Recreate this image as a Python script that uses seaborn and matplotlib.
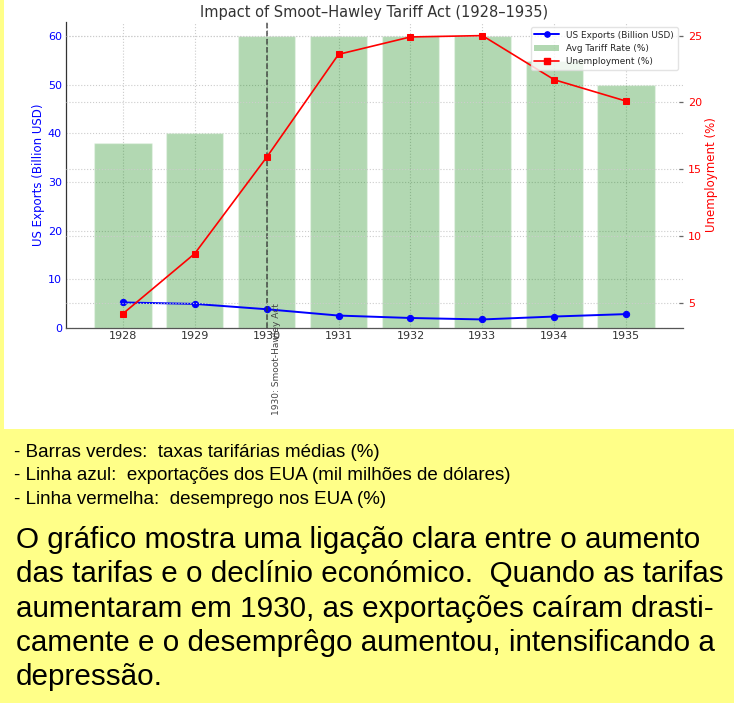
import matplotlib
matplotlib.use("Agg")
import matplotlib.pyplot as plt
import seaborn as sns
import numpy as np
import pandas as pd
from matplotlib.lines import Line2D
from matplotlib.patches import Patch, Rectangle

# ---- data ----
years = [1928, 1929, 1930, 1931, 1932, 1933, 1934, 1935]
tariff_rate = [38, 40, 60, 60, 60, 60, 55, 50]
exports = [5.2, 4.9, 3.8, 2.5, 2.0, 1.7, 2.3, 2.8]
unemployment = [4.2, 8.7, 15.9, 23.6, 24.9, 25.0, 21.7, 20.1]

title = "Impact of Smoot\u2013Hawley Tariff Act (1928\u20131935)"
event_year = 1930
event_label = "1930: Smoot-Hawley Act"
legend_labels = ["US Exports (Billion USD)", "Avg Tariff Rate (%)", "Unemployment (%)"]
left_label = "US Exports (Billion USD)"
right_label = "Unemployment (%)"

notes = [
    "- Barras verdes:  taxas tarif\u00e1rias m\u00e9dias (%)",
    "- Linha azul:  exporta\u00e7\u00f5es dos EUA (mil milh\u00f5es de d\u00f3lares)",
    "- Linha vermelha:  desemprego nos EUA (%)",
]
paragraph = [
    "O gr\u00e1fico mostra uma liga\u00e7\u00e3o clara entre o aumento",
    "das tarifas e o decl\u00ednio econ\u00f3mico.  Quando as tarifas",
    "aumentaram em 1930, as exporta\u00e7\u00f5es ca\u00edram drasti-",
    "camente e o desempr\u00eago aumentou, intensificando a",
    "depress\u00e3o.",
]

df = pd.DataFrame({"year": years, "tariff": tariff_rate,
                   "exports": exports, "unemp": unemployment})

sns.set_style("white")
plt.rcParams["font.family"] = ["DejaVu Sans"]

W, H = 734, 703
fig = plt.figure(figsize=(W / 100, H / 100), dpi=100)
fig.patch.set_facecolor("#FFFF88")

# white panel behind the chart
fig.patches.append(Rectangle((4 / W, 1 - 429 / H), 1 - 4 / W, 429 / H,
                             transform=fig.transFigure, facecolor="white",
                             edgecolor="none", zorder=-5))

ax1 = fig.add_axes([66 / W, 1 - 327.7 / H, (683 - 66) / W, (327.7 - 21.7) / H])
ax1.set_facecolor("none")

grid_kw = dict(color="#cccccc", linestyle=":", linewidth=0.8)

sns.barplot(data=df, x="year", y="tariff", native_scale=True, color="green",
            saturation=1, alpha=0.3, errorbar=None, ax=ax1, width=0.8)
sns.lineplot(data=df, x="year", y="exports", ax=ax1, color="blue", marker="o",
             markersize=4.5, markeredgecolor="blue", linewidth=1.4)

ax1.set_xlim(1927.21, 1935.79)
ax1.set_ylim(0, 63)
ax1.set_xticks(years)
ax1.set_xticklabels([str(y) for y in years])
ax1.set_yticks([0, 10, 20, 30, 40, 50, 60])
ax1.grid(True, **grid_kw)
ax1.set_axisbelow(True)
ax1.tick_params(axis="x", length=0, pad=2.5, labelsize=8, labelcolor="#333333")
ax1.tick_params(axis="y", length=0, pad=3, labelsize=8, labelcolor="blue")
ax1.set_xlabel("")
ax1.set_ylabel(left_label, color="blue", fontsize=8.5, labelpad=2)
for s in ["top", "right"]:
    ax1.spines[s].set_visible(False)
ax1.spines["left"].set_color("#333333")
ax1.spines["bottom"].set_color("#555555")
ax1.spines["left"].set_linewidth(0.9)
ax1.spines["bottom"].set_linewidth(0.9)

ax1.axvline(event_year, color="#333333", linestyle="--", linewidth=1.1, alpha=0.85)
ax1.text(event_year + 0.08, 5, event_label, rotation=90, va="top", ha="left",
         fontsize=6.5, color="#444444", clip_on=False)

ax2 = ax1.twinx()
sns.lineplot(data=df, x="year", y="unemp", ax=ax2, color="red", marker="s",
             markersize=4, markeredgecolor="red", linewidth=1.2)
ax2.set_ylim(3.16, 26.04)
ax2.set_yticks([5, 10, 15, 20, 25])
ax2.grid(True, axis="y", **grid_kw)
ax2.tick_params(axis="y", direction="in", length=3, width=0.9, color="#666666",
                pad=3.5, labelsize=8, labelcolor="red")
ax2.set_ylabel(right_label, color="red", fontsize=8.5, labelpad=2.5)
ax2.set_xlabel("")
for s in ["top", "right", "left", "bottom"]:
    ax2.spines[s].set_visible(False)

ax1.set_title(title, fontsize=10.5, color="#333333", pad=3.6)

handles = [
    Line2D([0], [0], color="blue", marker="o", markersize=3.8, linewidth=1.4),
    Patch(facecolor="green", alpha=0.3, edgecolor="none"),
    Line2D([0], [0], color="red", marker="s", markersize=3.8, linewidth=1.2),
]
leg = ax2.legend(handles, legend_labels, loc="upper right", fontsize=6.4,
                 handlelength=2.8, frameon=True, framealpha=0.8,
                 edgecolor="#dddddd", fancybox=True, borderaxespad=0.6)

# ---- text below ----
for i, line in enumerate(notes):
    fig.text(14 / W, 1 - (457 + 23.5 * i) / H, line, fontsize=13.5,
             family="Liberation Sans", color="black", va="baseline", ha="left")
for i, line in enumerate(paragraph):
    fig.text(16 / W, 1 - (548 + 34.3 * i) / H, line, fontsize=21.3,
             family="Liberation Sans", color="black", va="baseline", ha="left")

fig.savefig("out.png", dpi=100, facecolor=fig.get_facecolor())
